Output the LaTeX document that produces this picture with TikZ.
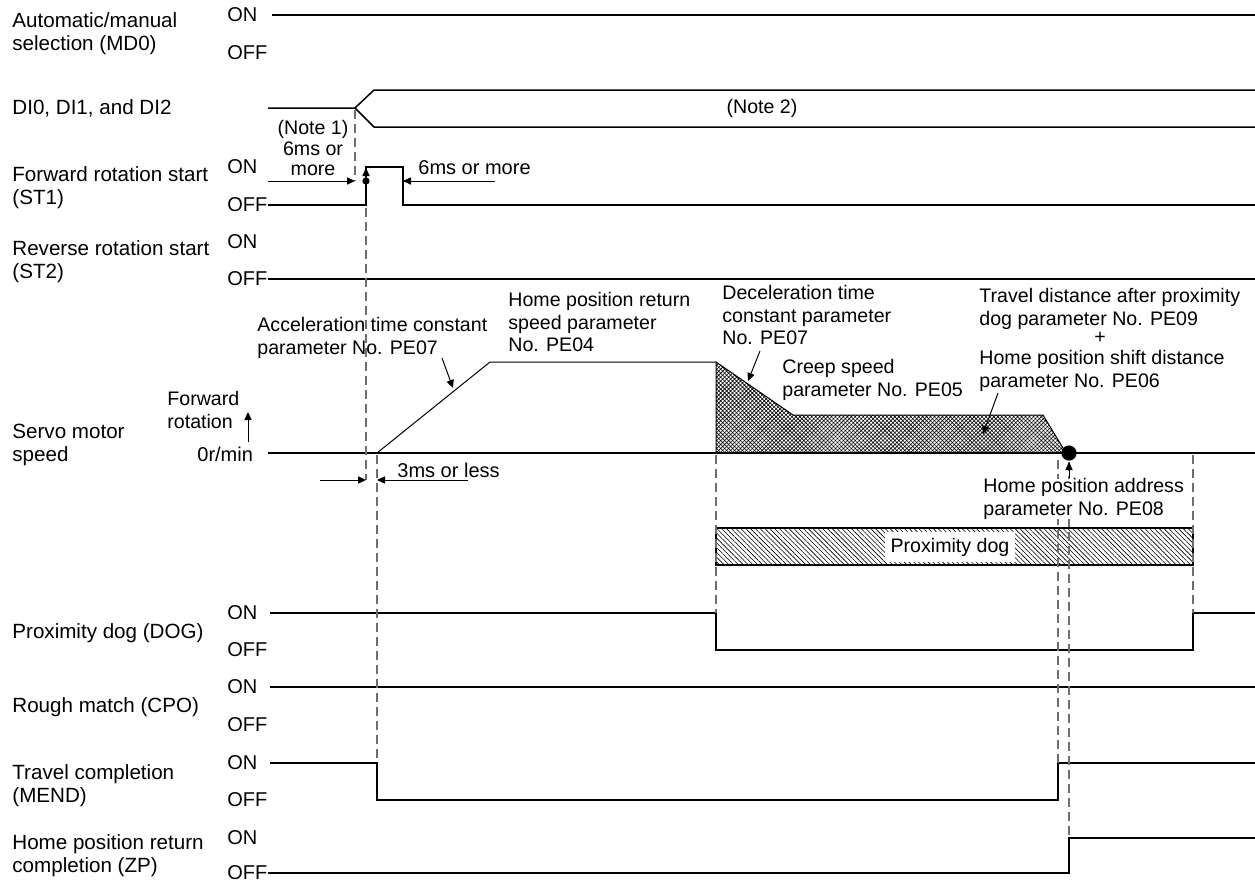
\documentclass[tikz,border=0pt]{standalone}
\usepackage{fontspec}
\setmainfont{Liberation Sans}
\usetikzlibrary{arrows.meta,patterns.meta,positioning,calc}
\definecolor{guidegray}{HTML}{6E6E6E}

\begin{document}
\begin{tikzpicture}[
  x=0.5pt,y=-0.5pt,
  font=\fontsize{9.8pt}{11.2pt}\selectfont,
  lbl/.style={anchor=west,align=left,inner sep=0pt},
  signame/.style={lbl,font=\fontsize{10.3pt}{11.4pt}\selectfont},
  lvl/.style={anchor=west,inner sep=0pt,font=\fontsize{10pt}{11pt}\selectfont},
  sig/.style={line width=0.75pt},
  thin/.style={line width=0.5pt},
  guide/.style={draw=guidegray,line width=0.55pt,dash pattern=on 4.5pt off 2.5pt},
  dim/.style={-{Triangle[length=4pt,width=3.6pt]},line width=0.5pt},
]
\useasboundingbox (0,0) rectangle (1255,884);

% Signal names on the left.
\node[signame] (mdlbl)   at (12,34)  {Automatic/manual\\selection (MD0)};
\node[signame] (dilbl)   at (12,108) {DI0, DI1, and DI2};
\node[signame] (stonelbl) at (12,188) {Forward rotation start\\(ST1)};
\node[signame] (sttwolbl) at (12,262) {Reverse rotation start\\(ST2)};
\node[signame] (spdlbl)  at (12,445) {Servo motor\\speed};
\node[signame] (doglbl)  at (12,633) {Proximity dog (DOG)};
\node[signame] (cpolbl)  at (12,707) {Rough match (CPO)};
\node[signame] (mendlbl) at (12,786) {Travel completion\\(MEND)};
\node[signame] (zplbl)   at (12,856) {Home position return\\completion (ZP)};

% ON / OFF levels.
\foreach \n/\on/\off in {md/15/53, stone/167/205, sttwo/242/279,
                         dog/613/650, cpo/687/725, mend/763/800, zp/838/873} {
  \node[lvl] (\n on)  at (227,\on)  {ON};
  \node[lvl] (\n off) at (227,\off) {OFF};
}

% Waveforms.
\draw[sig] (272,15) -- (1255,15);
\draw[sig] (268,108) -- (355,108) -- (374,90) -- (1255,90);
\draw[sig] (355,108) -- (374,127) -- (1255,127);
\draw[sig] (stoneoff.east) -- (366,205) -- (366,167) -- (403,167)
  -- (403,205) -- (1255,205);
\draw[sig] (sttwooff.east) -- (1255,279);
\draw[sig] (268,453) -- (1255,453);
\draw[sig] (270,613) -- (716,613) -- (716,650) -- (1193,650)
  -- (1193,613) -- (1255,613);
\draw[sig] (270,687) -- (1255,687);
\draw[sig] (270,763) -- (377,763) -- (377,800) -- (1058,800)
  -- (1058,763) -- (1255,763);
\draw[sig] (zpoff.east) -- (1069,873) -- (1069,838) -- (1255,838);

% Speed profile.
\draw[thin] (377,453) -- (490,362) -- (716,362);
\draw[thin,pattern={Hatch[angle=45,distance=1.4pt,line width=0.3pt]}]
  (716,362) -- (793,415) -- (1043,415) -- (1066,453) -- (716,453) -- cycle;
\fill (1069,453) circle[radius=3.8pt];

% Proximity dog range.
\draw[line width=0.6pt,pattern={Lines[angle=-45,distance=1.7pt,line width=0.3pt]}]
  (716,528) rectangle (1193,565);

% Guide lines.
\draw[guide] (355,110) -- (355,181);
\draw[guide] (366,208) -- (366,480);
\draw[guide] (377,455) -- (377,763);
\draw[guide] (716,455) -- (716,613);
\draw[guide] (1193,455) -- (1193,613);
\draw[guide] (1058,460) -- (1058,763);
\draw[guide] (1069,462) -- (1069,838);

\node[fill=white,inner xsep=3pt,inner ysep=0pt,minimum height=14.6pt]
  (dogbox) at (950,547) {Proximity dog};

% Timing notes.
\node[align=center,inner sep=0pt,font=\fontsize{9.8pt}{10.2pt}\selectfont]
  (noteone) at (313,148) {(Note 1)\\6ms or\\more};
\node (notetwo) at (762,108) {(Note 2)};
\node[lvl] (sixms) at (418,168) {6ms or more};
\node[lvl] (threems) at (397,470) {3ms or less};
\coordinate (edgeone) at (355,181);
\coordinate (stoneup) at (366,181);
\draw[dim] (268,181) -- (edgeone);
\fill (stoneup) circle[radius=1.8pt];
\draw[dim] (stoneup) -- (366,168);
\draw[dim] (495,181) -- (403,181);
\draw[dim] (320,480) -- (366,480);
\draw[dim] (468,480) -- (377,480);

% Speed axis.
\node[lbl] (fwd) at (167,410) {Forward\\rotation};
\node[lvl] (zero) at (197,454) {0r/min};
\draw[dim] (248,442) -- (248,412);

% Parameter notes.
\node[lbl] (accel) at (257,338) {Acceleration time constant\\parameter No. PE07};
\node[lbl] (homespd) at (508,322) {Home position return\\speed parameter\\No. PE04};
\node[lbl] (decel) at (722,315) {Deceleration time\\constant parameter\\No. PE07};
\node[lbl] (creep) at (782,380) {Creep speed\\parameter No. PE05};
\node[lbl] (travel) at (979,309) {Travel distance after proximity\\dog parameter No. PE09};
\node[inner sep=0pt] (plus) at (1100,338) {+};
\node[lbl] (shift) at (979,371) {Home position shift distance\\parameter No. PE06};
\node[lbl,fill=white] (homeaddr) at (983,499) {Home position address\\parameter No. PE08};

\draw[dim] (442,358) -- (453,388);
\draw[dim] (760,351) -- (748,381);
\draw[dim] (998,393) -- (983,434);
\draw[dim] (homeaddr.north -| 1069,0) -- (1069,462);

\end{tikzpicture}
\end{document}
